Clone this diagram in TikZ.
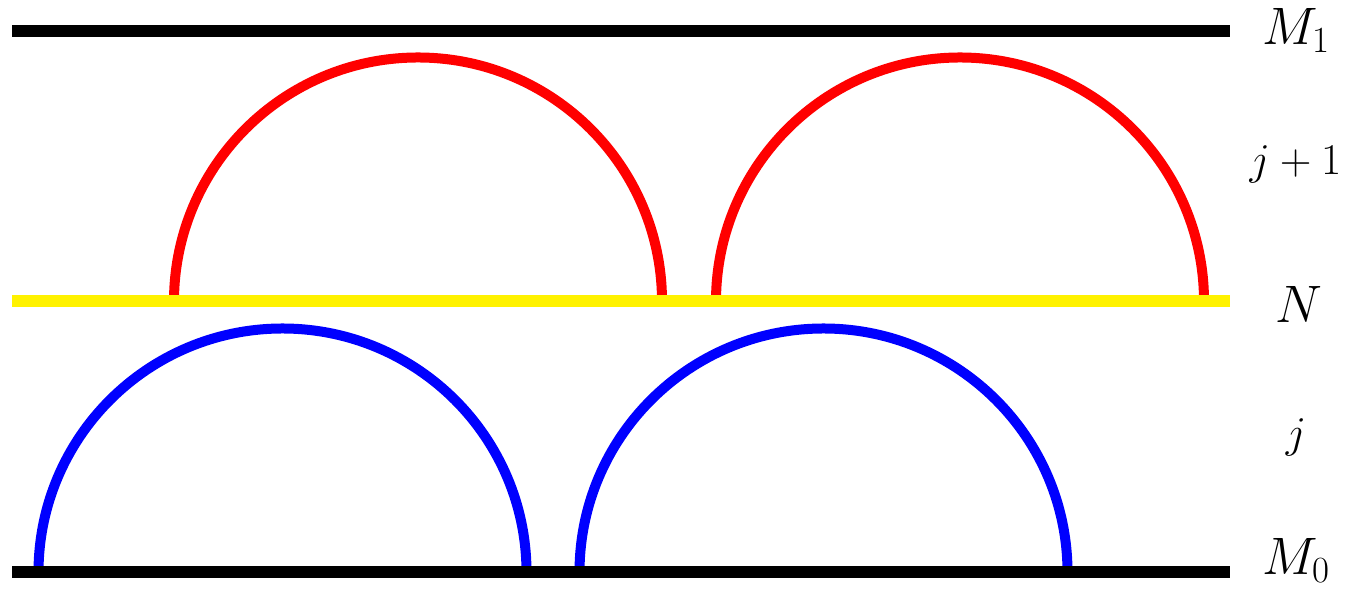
\documentclass[tikz,border=0pt]{standalone}
\usepackage{fix-cm}
\usepackage{amsmath,amssymb}
\usepackage{tikz}

\begin{document}
\begin{tikzpicture}[
    plate/.style={line width=0.24cm, draw=#1},
    halfarc/.style={line width=0.2cm, draw=#1},
    lbl/.style={font=\fontsize{#1}{#1}\selectfont, inner sep=0pt, anchor=base}
]
    \useasboundingbox (0,0) rectangle (27,12.02);

    \draw[halfarc=red] (3.48,5.99) arc (180:0:4.88);
    \draw[halfarc=red] (14.32,5.99) arc (180:0:4.88);
    \draw[halfarc=blue] (0.77,0.57) arc (180:0:4.88);
    \draw[halfarc=blue] (11.59,0.57) arc (180:0:4.88);

    \draw[plate=black] (0.24,11.4) -- (24.6,11.4);
    \draw[plate=yellow] (0.24,5.99) -- (24.6,5.99);
    \draw[plate=black] (0.24,0.57) -- (24.6,0.57);

    \node[lbl=30] (top) at (25.92,11.12) {$M_1$};
    \node[lbl=25] (upper) at (25.91,8.52) {$j+1$};
    \node[lbl=30] (mid) at (25.98,5.57) {$N$};
    \node[lbl=25] (lower) at (25.92,3.06) {$j$};
    \node[lbl=30] (bottom) at (25.92,0.52) {$M_0$};
\end{tikzpicture}
\end{document}
